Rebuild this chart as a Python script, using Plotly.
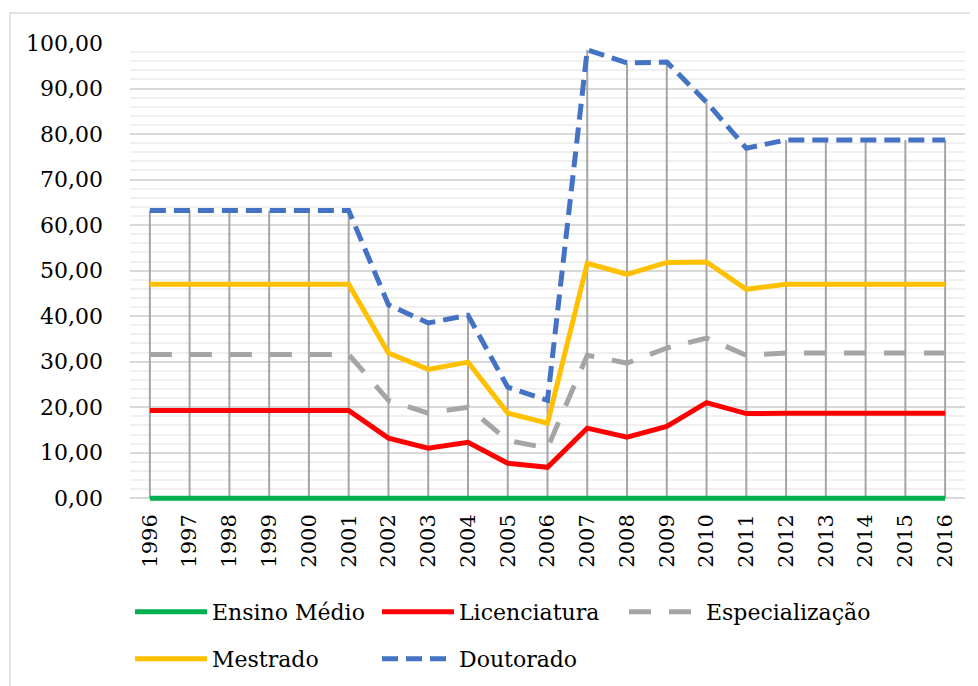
import plotly.graph_objects as go

years = [str(y) for y in range(1996, 2017)]

ensino_medio = [0.0] * 21
licenciatura = [19.3, 19.3, 19.3, 19.3, 19.3, 19.3, 13.2, 11.0, 12.3, 7.7, 6.8,
                15.4, 13.4, 15.8, 21.0, 18.6, 18.7, 18.7, 18.7, 18.7, 18.7]
especializacao = [31.6, 31.6, 31.6, 31.6, 31.6, 31.6, 21.5, 18.7, 20.0, 12.7, 11.0,
                  31.4, 29.7, 33.0, 35.2, 31.4, 31.9, 31.9, 31.9, 31.9, 31.9]
mestrado = [47.0, 47.0, 47.0, 47.0, 47.0, 47.0, 31.9, 28.3, 29.9, 18.7, 16.5,
            51.6, 49.2, 51.8, 51.9, 45.9, 47.0, 47.0, 47.0, 47.0, 47.0]
doutorado = [63.2, 63.2, 63.2, 63.2, 63.2, 63.2, 42.5, 38.5, 40.2, 24.4, 21.5,
             98.5, 95.6, 95.8, 87.0, 76.9, 78.7, 78.7, 78.7, 78.7, 78.7]

series = [
    ("Ensino Médio", ensino_medio, "#00B050", "solid", "legend"),
    ("Licenciatura", licenciatura, "#FF0000", "solid", "legend"),
    ("Especialização", especializacao, "#A5A5A5", "22px,18px", "legend"),
    ("Mestrado", mestrado, "#FFC000", "solid", "legend2"),
    ("Doutorado", doutorado, "#4472C4", "16px,8px", "legend2"),
]

font = "DejaVu Serif"

fig = go.Figure()

# drop lines: from axis up to the highest value of each year
tops = [max(v) for v in zip(ensino_medio, licenciatura, especializacao, mestrado, doutorado)]
dx, dy = [], []
for yr, top in zip(years, tops):
    dx += [yr, yr, None]
    dy += [0, top, None]
fig.add_trace(go.Scatter(x=dx, y=dy, mode="lines", line=dict(color="#A5A5A5", width=2),
                         showlegend=False, hoverinfo="skip"))

for name, vals, color, dash, leg in series:
    fig.add_trace(go.Scatter(
        x=years, y=vals, name=name, mode="lines",
        line=dict(color=color, width=5, dash=dash),
        cliponaxis=False, legend=leg,
    ))

# outer chart border (page has an 8px body margin)
fig.add_shape(type="rect", xref="paper", yref="paper",
              x0=-0.1437, x1=1.03, y0=-0.45, y1=1.0655,
              line=dict(color="#D9D9D9", width=1.5), layer="below")

legend_style = dict(
    orientation="h", xanchor="left", yanchor="middle",
    font=dict(family=font, size=22, color="black"),
    bgcolor="rgba(0,0,0,0)", itemwidth=72, tracegroupgap=0,
    entrywidth=160, entrywidthmode="pixels",
)

fig.update_layout(
    width=978, height=686,
    margin=dict(l=122, r=21, t=35, b=193),
    paper_bgcolor="white", plot_bgcolor="white",
    separators=",.",
    font=dict(family=font, size=22, color="black"),
    xaxis=dict(
        type="category", range=[-0.5, 20.5], showgrid=False, showline=False,
        tickangle=-90, ticks="", ticklabelstandoff=8, automargin=False,
        tickfont=dict(family=font, size=21, color="black"),
    ),
    yaxis=dict(
        range=[-0.6, 100], tick0=0, dtick=10, tickformat=".2f", showline=False,
        zeroline=False, gridcolor="#D9D9D9", gridwidth=1.5, ticks="",
        ticklabelstandoff=26, automargin=False,
        tickfont=dict(family=font, size=22, color="black"),
        minor=dict(tick0=0, dtick=2, showgrid=True, gridcolor="#F0F0F0", gridwidth=1.5),
    ),
    legend=dict(x=0.0, y=-0.242, **legend_style),
    legend2=dict(x=0.0, y=-0.345, **legend_style),
)

fig.write_html("out.html")
